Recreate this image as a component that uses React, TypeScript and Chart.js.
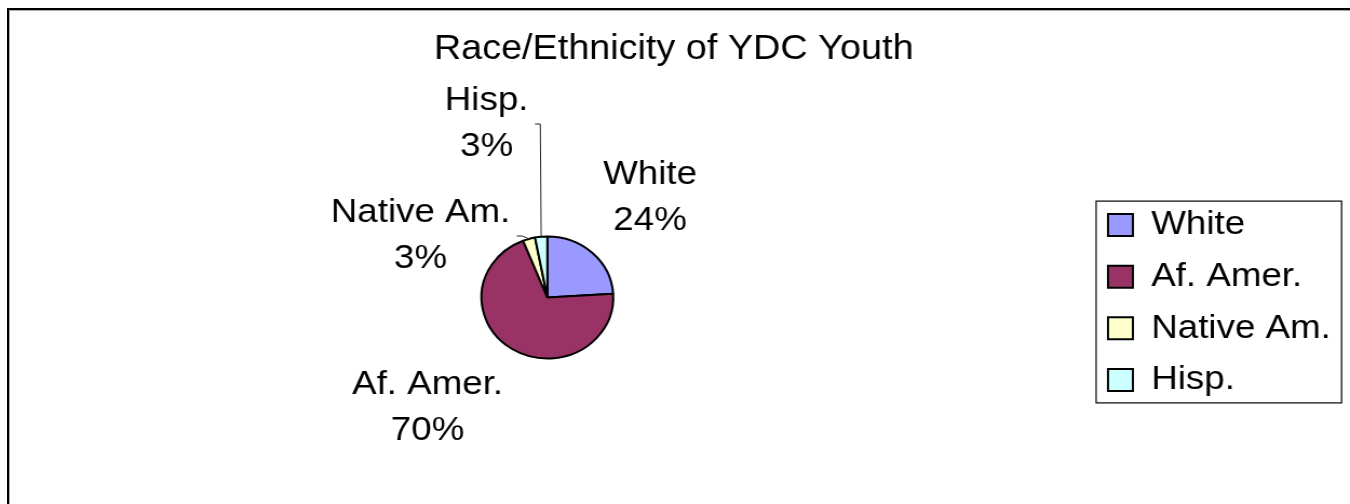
import React, { useEffect, useRef } from "react";
import { Chart, registerables } from "chart.js";

Chart.register(...registerables);

const TITLE = "Race/Ethnicity of YDC Youth";
const CATEGORIES = ["White", "Af. Amer.", "Native Am.", "Hisp."];
const VALUES = [24, 70, 3, 3];
const COLORS = ["#9999FF", "#993366", "#FFFFCC", "#CCFFFF"];

// label placement config (offsets from the default mid-angle anchor)
const LABEL_DIST = 80;
const LABEL_NUDGE = [
  [-1.5, 3.3],
  [-35.4, -8.8],
  [-78.1, 73.9],
  [-43, -33.1],
];
const LABEL_LEADER = [false, false, true, true];

const FONT = '"Liberation Sans", Arial, Helvetica, sans-serif';
const CANVAS_W = 1250;
const CANVAS_H = 504;

const sliceLabels = {
  id: "sliceLabels",
  afterDatasetsDraw(chart: any) {
    const meta = chart.getDatasetMeta(0);
    const ctx = chart.ctx as CanvasRenderingContext2D;
    const total = VALUES.reduce((a, b) => a + b, 0);
    ctx.save();
    ctx.font = `34px ${FONT}`;
    ctx.fillStyle = "#000";
    ctx.strokeStyle = "#222";
    ctx.lineWidth = 1;
    ctx.textAlign = "center";
    ctx.textBaseline = "middle";
    meta.data.forEach((arc: any, i: number) => {
      const p = arc.getProps(["x", "y", "startAngle", "endAngle", "outerRadius"], true);
      const mid = (p.startAngle + p.endAngle) / 2;
      const d = p.outerRadius + LABEL_DIST;
      const cx = p.x + Math.cos(mid) * d + LABEL_NUDGE[i][0];
      const cy = p.y + Math.sin(mid) * d + LABEL_NUDGE[i][1];
      const pct = Math.round((VALUES[i] / total) * 100) + "%";
      const lines = [CATEGORIES[i], pct];
      const lh = 46;
      lines.forEach((t, k) => ctx.fillText(t, cx, cy + (k - 0.5) * lh));
      if (LABEL_LEADER[i]) {
        const w = Math.max(...lines.map((t) => ctx.measureText(t).width));
        const right = cx + w / 2;
        ctx.beginPath();
        ctx.moveTo(p.x + Math.cos(mid) * p.outerRadius, p.y + Math.sin(mid) * p.outerRadius);
        ctx.lineTo(right + 11, cy);
        ctx.lineTo(right + 6, cy);
        ctx.stroke();
      }
    });
    ctx.restore();
  },
};

const legendFrame = {
  id: "legendFrame",
  afterDraw(chart: any) {
    const lg = chart.legend;
    if (!lg || !lg.legendHitBoxes || !lg.legendHitBoxes.length) return;
    const hb = lg.legendHitBoxes;
    const first = hb[0];
    const last = hb[hb.length - 1];
    const left = first.left - 11;
    const right = lg.right;
    const top = first.top + 17 - 24;
    const bottom = last.top + 17 + 23;
    const ctx = chart.ctx as CanvasRenderingContext2D;
    ctx.save();
    ctx.strokeStyle = "#000";
    ctx.lineWidth = 1.2;
    ctx.strokeRect(left, top, right - left, bottom - top);
    ctx.restore();
  },
};

export default function App() {
  const ref = useRef<HTMLCanvasElement | null>(null);

  useEffect(() => {
    if (!ref.current) return;
    const chart = new Chart(ref.current, {
      type: "pie",
      data: {
        labels: CATEGORIES,
        datasets: [
          {
            data: VALUES,
            backgroundColor: COLORS,
            borderColor: "#000",
            borderWidth: 2,
            radius: 61,
          } as any,
        ],
      },
      options: {
        animation: false,
        responsive: false,
        maintainAspectRatio: false,
        devicePixelRatio: 1,
        layout: { padding: { top: 0, bottom: 0, left: 5.3, right: 7.8 } },
        plugins: {
          tooltip: { enabled: false },
          title: {
            display: true,
            text: TITLE,
            color: "#000",
            font: { family: FONT, size: 35, weight: "normal", lineHeight: 1.2 },
            padding: { top: 28.5, bottom: 20.5 },
          },
          legend: {
            display: true,
            position: "right",
            fullSize: false,
            align: "center",
            title: {
              display: true,
              text: "",
              font: { family: FONT, size: 8, lineHeight: 1.25 },
              padding: 0,
            },
            labels: {
              color: "#000",
              font: { family: FONT, size: 34 },
              boxWidth: 23,
              boxHeight: 22,
              padding: 17.6,
            },
          },
        },
      } as any,
      plugins: [sliceLabels, legendFrame],
    });
    return () => chart.destroy();
  }, []);

  return (
    <div
      style={{
        position: "fixed",
        left: 0,
        top: 0,
        width: 1350,
        height: 504,
        overflow: "hidden",
        background: "#fff",
      }}
    >
      <canvas
        ref={ref}
        width={CANVAS_W}
        height={CANVAS_H}
        style={{ display: "block", width: "1350px", height: "504px" }}
      />
      <div
        style={{
          position: "absolute",
          left: 7,
          top: 8,
          width: 1400,
          height: 600,
          borderLeft: "2px solid #000",
          borderTop: "2px solid #000",
          boxShadow: "inset 1px 1px 0 #aaa",
          pointerEvents: "none",
        }}
      />
    </div>
  );
}
